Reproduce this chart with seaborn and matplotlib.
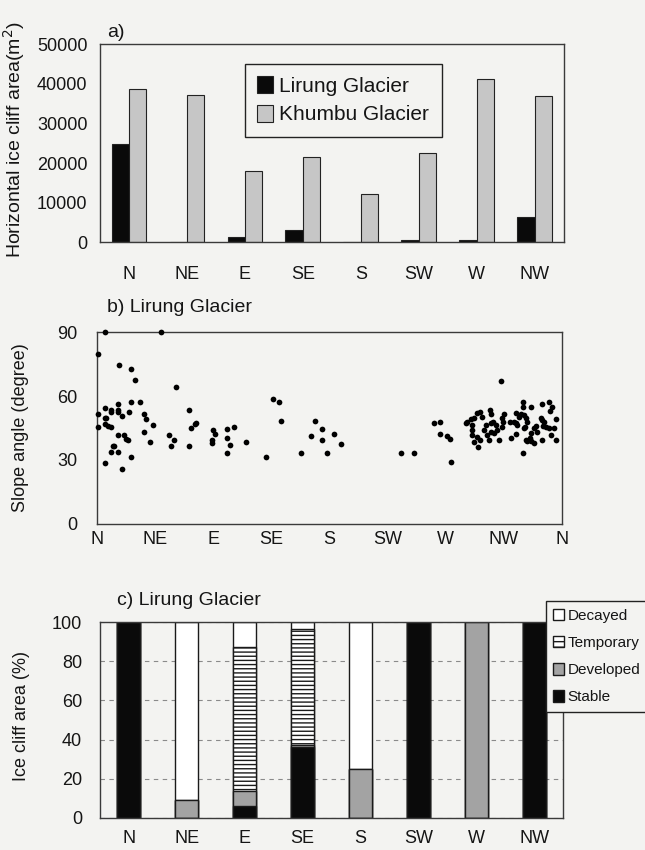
import numpy as np
import pandas as pd
import matplotlib
matplotlib.use("Agg")
import matplotlib.pyplot as plt
from matplotlib.patches import Patch
import seaborn as sns

# ---------------- data ----------------
directions = ["N", "NE", "E", "SE", "S", "SW", "W", "NW"]
lirung_area = [24700, 0, 1300, 3000, 100, 500, 500, 6400]
khumbu_area = [38800, 37100, 17900, 21600, 12200, 22600, 41200, 36800]

# panel b: aspect (deg from N, clockwise) and slope angle (deg)
aspect_deg = [
    6.0, 49.4, 1.3, 17.3, 26.4, 29.3, 61.5, 26.4, 33.4, 16.1,
    6.0, 11.1, 11.1, 16.1, 16.1, 19.4, 25.1, 0.8, 6.0, 7.5,
    36.7, 38.3, 71.1, 0.8, 6.4, 8.5, 11.1, 43.2, 73.2, 76.3,
    77.0, 36.2, 16.1, 20.9, 22.7, 24.1, 56.1, 59.5, 41.4, 57.4,
    71.1, 12.2, 13.4, 11.1, 16.1, 26.4, 6.0, 19.2,
    89.9, 91.3, 89.2, 89.2, 100.9, 106.1, 100.9, 103.2, 100.9, 115.8, 130.9,
    136.8, 140.7, 142.5,
    158.3, 165.8, 168.6, 174.6, 174.6, 178.5, 183.7, 188.9,
    235.9, 245.7,
    260.9, 265.6, 265.6, 270.8, 273.3, 274.4,
    313.2, 295.4, 330.3, 286.8, 289.4, 292.0, 294.6, 296.6, 298.5, 290.7, 290.7, 290.7, 294.1, 292.0,
    299.7, 301.1, 302.4, 303.6, 304.9, 304.4, 304.9, 307.0, 308.8, 307.5, 310.1, 311.4, 314.0, 314.8, 314.0,
    330.3, 330.3, 336.0, 345.0, 350.2, 352.8, 351.0, 324.3, 326.9, 328.8, 330.8, 332.1, 332.9, 331.5, 323.0, 324.3,
    343.7, 345.0, 346.3, 345.8, 347.6, 339.8, 338.5, 350.2, 354.0, 355.4, 330.8, 340.6, 324.3, 320.4, 336.0,
    335.4, 333.4, 336.0, 338.5, 332.1, 345.0, 351.5, 355.4,
    319.7, 285.5, 296.8, 315.2, 305.4, 325.6,
]
slope_deg = [
    90.0, 90.0, 79.7, 74.7, 72.7, 67.5, 64.4, 57.3, 57.3, 56.4,
    54.5, 53.4, 52.5, 53.4, 52.5, 50.8, 52.4, 51.7, 49.5, 49.5,
    51.4, 49.4, 53.3, 45.6, 46.7, 45.9, 45.6, 46.4, 45.1, 46.7,
    47.5, 43.3, 41.6, 41.6, 39.7, 39.4, 41.6, 39.4, 38.3, 36.4,
    36.4, 36.6, 36.6, 33.6, 33.6, 31.5, 28.7, 25.6,
    43.9, 42.3, 39.2, 37.8, 44.4, 45.3, 40.3, 37.2, 33.3, 38.3, 31.4,
    58.5, 57.3, 48.4,
    33.3, 41.3, 48.4, 44.4, 39.2, 33.3, 42.2, 37.3,
    33.3, 33.3,
    47.2, 48.0, 42.3, 41.3, 40.0, 29.2,
    67.0, 36.1, 33.0, 48.0, 49.2, 49.8, 51.9, 52.4, 50.3, 46.4, 44.1, 41.7, 40.9, 38.6,
    44.1, 46.4, 41.7, 39.4, 43.3, 53.4, 51.4, 48.0, 46.4, 42.5, 44.1, 39.4, 49.8, 48.0, 45.6,
    57.0, 55.0, 55.0, 56.1, 57.0, 55.0, 53.0, 51.9, 50.3, 51.4, 51.1, 49.8, 48.0, 45.6, 48.0, 47.2,
    49.8, 48.8, 47.7, 46.1, 45.6, 46.1, 44.9, 44.9, 45.1, 49.2, 44.9, 43.3, 42.0, 40.2, 42.5,
    40.2, 38.9, 38.9, 37.8, 39.4, 39.4, 41.7, 39.4,
    48.0, 47.2, 39.4, 51.6, 47.2, 46.4,
]
aspect_tick_deg = [0, 45, 90, 135, 180, 225, 270, 315, 360]
aspect_tick_labels = ["N", "NE", "E", "SE", "S", "SW", "W", "NW", "N"]

# panel c: percentage of ice cliff area by type
stable = [100, 0, 5.8, 36.3, 0, 100, 0, 100]
developed = [0, 9.3, 7.8, 0.8, 24.9, 0, 100, 0]
temporary = [0, 0, 73.9, 59.3, 0, 0, 0, 0]
decayed = [0, 90.7, 12.5, 3.6, 75.1, 0, 0, 0]

# ---------------- style ----------------
sns.set_theme(style="white")
plt.rcParams["font.family"] = ["Liberation Sans", "DejaVu Sans"]
plt.rcParams["hatch.linewidth"] = 1.0
BG = "#f3f3f1"
INK = "#151515"
SPINE = "#3a3a3a"

fig = plt.figure(figsize=(6.45, 8.5), dpi=100, facecolor=BG)

def style_axes(ax):
    ax.set_facecolor(BG)
    for s in ax.spines.values():
        s.set_visible(True)
        s.set_color(SPINE)
        s.set_linewidth(1.0)

# ---------------- panel a ----------------
axa = fig.add_axes([0.155, 0.715, 0.719, 0.233])
style_axes(axa)
dfa = pd.DataFrame({
    "direction": directions * 2,
    "area": lirung_area + khumbu_area,
    "glacier": ["Lirung Glacier"] * 8 + ["Khumbu Glacier"] * 8,
})
sns.barplot(data=dfa, x="direction", y="area", hue="glacier", order=directions,
            palette=["#0a0a0a", "#c6c6c6"], width=0.6, gap=0,
            edgecolor="#222222", linewidth=0.8, ax=axa)
axa.set_ylim(0, 50000)
axa.set_xlim(-0.5, 7.5)
axa.set_yticks(range(0, 50001, 10000))
axa.tick_params(axis="y", length=0, pad=9, labelsize=13, labelcolor=INK)
axa.tick_params(axis="x", which="major", length=0, pad=17, labelsize=13, labelcolor=INK)
axa.set_xticks(np.arange(0.5, 7, 1), minor=True)
axa.tick_params(axis="x", which="minor", direction="in", length=6, color=SPINE)
axa.set_xlabel("")
axa.set_ylabel("Horizontal ice cliff area(m$^2$)", fontsize=14, color=INK)
axa.yaxis.set_label_coords(-0.158, 0.52)
h, l = axa.get_legend_handles_labels()
axa.legend(h, l, loc="upper left", bbox_to_anchor=(0.29, 0.955), fontsize=15,
           frameon=True, fancybox=False, edgecolor="#222222", facecolor=BG,
           framealpha=1, handlelength=0.75, handleheight=0.85, handletextpad=0.3,
           labelspacing=0.45, borderpad=0.6, labelcolor=INK)
fig.text(0.166, 0.962, "a)", fontsize=14, color=INK, ha="left", va="center")

# ---------------- panel b ----------------
axb = fig.add_axes([0.150, 0.384, 0.721, 0.225])
style_axes(axb)
sns.scatterplot(x=aspect_deg, y=slope_deg, color="black", s=17, linewidth=0,
                ax=axb, clip_on=False, zorder=3)
axb.set_xlim(0, 360)
axb.set_ylim(0, 90)
axb.set_yticks([0, 30, 60, 90])
axb.set_xticks(aspect_tick_deg)
axb.set_xticklabels(aspect_tick_labels)
axb.tick_params(axis="y", direction="in", length=6, color=SPINE, pad=14,
                labelsize=13, labelcolor=INK)
axb.tick_params(axis="x", direction="in", length=5, color=SPINE, pad=5,
                labelsize=13, labelcolor=INK)
axb.set_ylabel("Slope angle (degree)", fontsize=13, color=INK)
axb.yaxis.set_label_coords(-0.146, 0.5)
fig.text(0.166, 0.638, "b) Lirung Glacier", fontsize=14, color=INK, ha="left", va="center")

# ---------------- panel c ----------------
axc = fig.add_axes([0.155, 0.038, 0.718, 0.230])
style_axes(axc)
axc.set_axisbelow(True)
axc.yaxis.grid(True, color="#8a8a8a", linestyle=(0, (4, 4)), linewidth=0.8)
cum_stable = np.array(stable, dtype=float)
cum_dev = cum_stable + np.array(developed)
cum_temp = cum_dev + np.array(temporary)
cum_dec = cum_temp + np.array(decayed)
layers = [
    (cum_dec, "white", None),
    (cum_temp, "white", "----"),
    (cum_dev, "#a3a3a3", None),
    (cum_stable, "#0a0a0a", None),
]
for vals, col, hatch in layers:
    sns.barplot(x=directions, y=list(vals), order=directions, color=col,
                width=0.4, edgecolor="#1a1a1a", linewidth=1.0, hatch=hatch,
                saturation=1, ax=axc)
axc.set_ylim(0, 100)
axc.set_xlim(-0.5, 7.5)
axc.set_yticks(range(0, 101, 20))
axc.tick_params(axis="y", length=0, pad=13, labelsize=13, labelcolor=INK)
axc.tick_params(axis="x", which="major", length=0, pad=9, labelsize=13, labelcolor=INK)
axc.set_xticks(np.arange(0.5, 7, 1), minor=True)
axc.tick_params(axis="x", which="minor", direction="in", length=6, color=SPINE)
axc.set_xlabel("")
axc.set_ylabel("Ice cliff area (%)", fontsize=13, color=INK)
axc.yaxis.set_label_coords(-0.152, 0.52)
fig.text(0.181, 0.294, "c) Lirung Glacier", fontsize=14, color=INK, ha="left", va="center")

leg_handles = [
    Patch(facecolor="white", edgecolor="#1a1a1a", label="Decayed"),
    Patch(facecolor="white", edgecolor="#1a1a1a", hatch="---", label="Temporary"),
    Patch(facecolor="#a3a3a3", edgecolor="#1a1a1a", label="Developed"),
    Patch(facecolor="#0a0a0a", edgecolor="#1a1a1a", label="Stable"),
]
fig.legend(handles=leg_handles, loc="upper left", bbox_to_anchor=(0.846, 0.293),
           bbox_transform=fig.transFigure, fontsize=11, frameon=True, fancybox=False,
           edgecolor="#222222", facecolor=BG, framealpha=1, handlelength=0.7,
           handleheight=0.8, handletextpad=0.25, labelspacing=0.85, borderpad=0.5,
           borderaxespad=0, labelcolor=INK)

fig.savefig("out.png", dpi=100, facecolor=BG)
